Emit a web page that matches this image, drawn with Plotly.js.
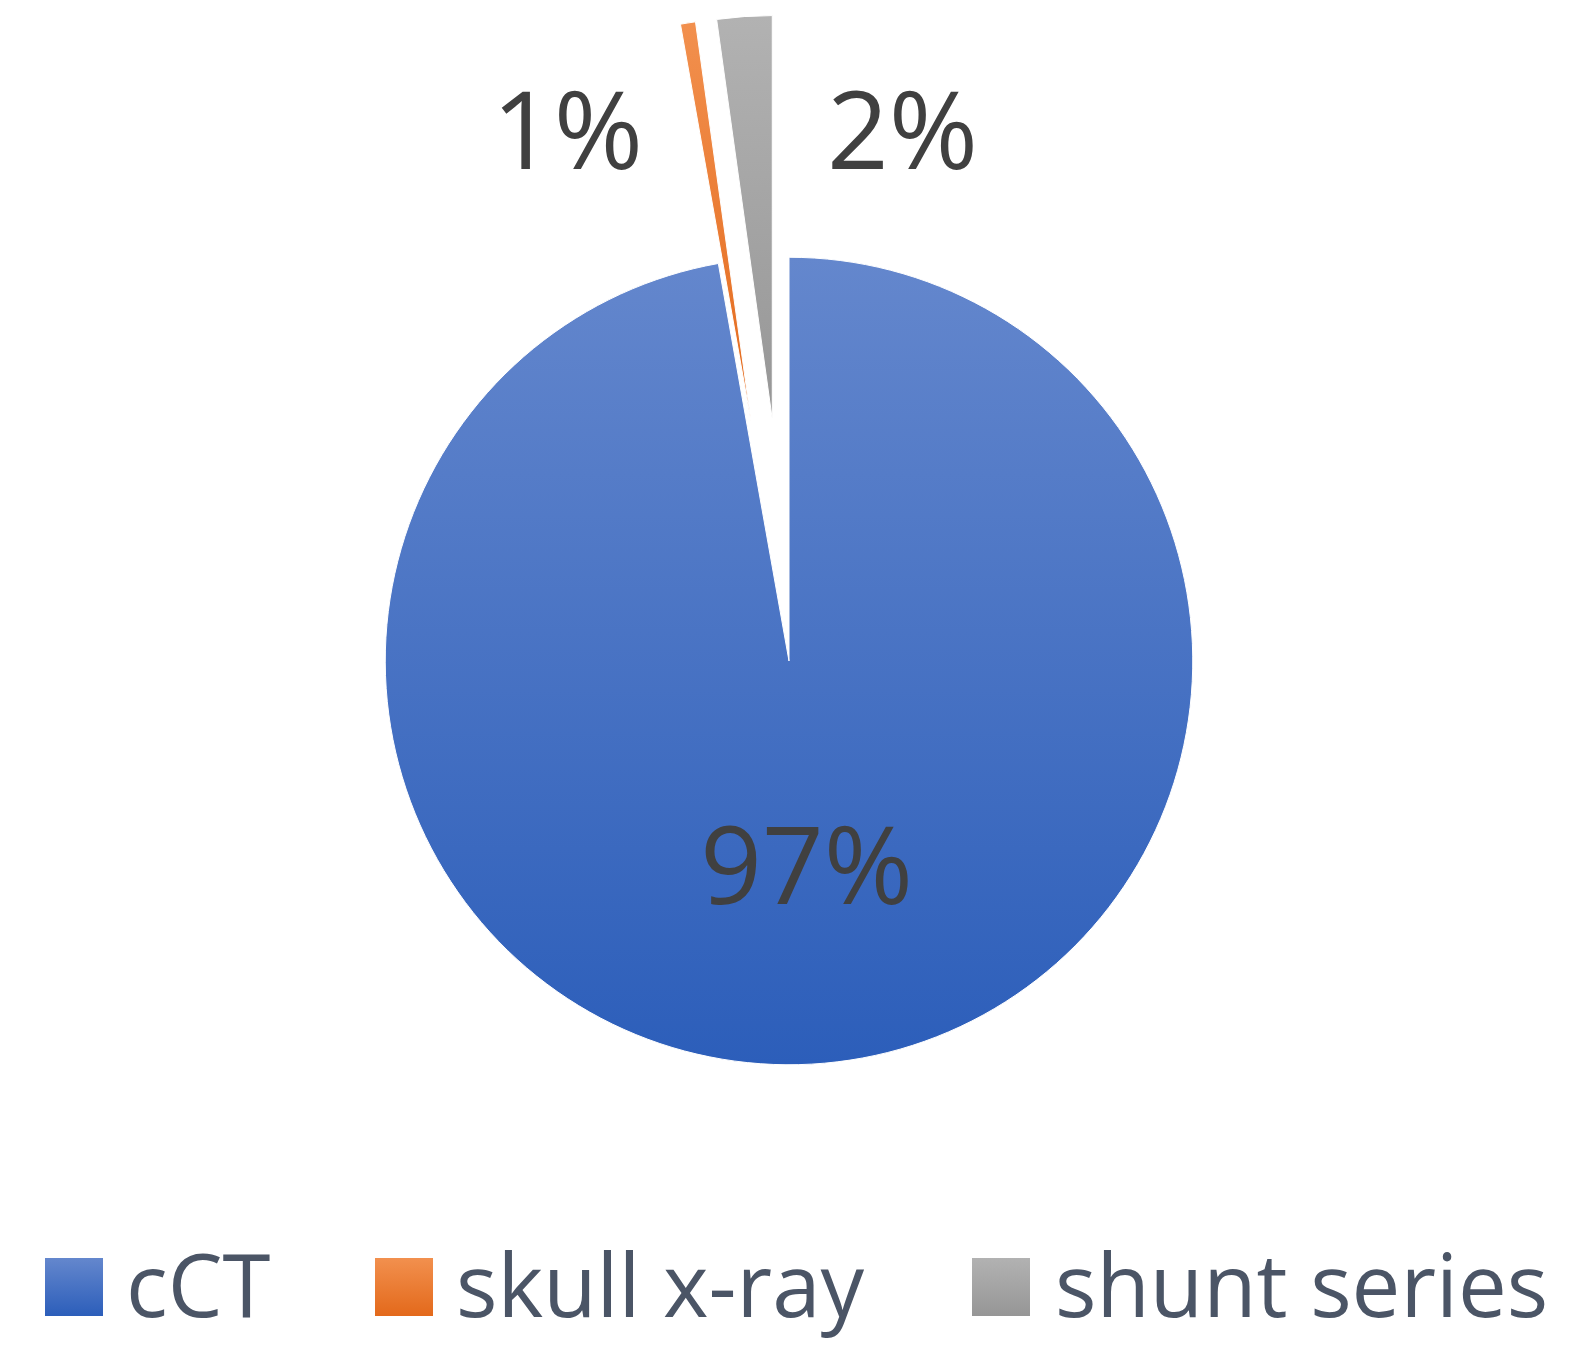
<!DOCTYPE html>
<html>
<head>
<meta charset="utf-8">
<script src="https://cdn.plot.ly/plotly-3.0.1.min.js"></script>
<style>
  html, body { margin: 0; padding: 0; background: #fff; }
  #chart { width: 1584px; height: 1371px; }
</style>
</head>
<body>
<div id="chart"></div>
<script>
const categories = ["cCT", "skull x-ray", "shunt series"];
const shares = [97.2, 0.6, 2.2];
const pulls = [0, 0.6, 0.6];
const sliceColors = ["#4472C4", "#ED7D31", "#A5A5A5"];
// top / bottom colours of the vertical shading on each slice and legend key
const gradientStops = [["#6487cd", "#2c5eba"], ["#f2904e", "#e3691b"], ["#b2b2b2", "#969696"]];

const W = 1584;
const H = 1371;
const FONT = "Open Sans, Noto Sans, DejaVu Sans, sans-serif";
const LABEL_COLOR = "#404040";
const LEGEND_COLOR = "#4b5566";

const px = (x) => x / W;
const py = (y) => 1 - y / H;

// label spots for the two exploded slivers, and legend key / text x positions (pixels)
const outsideLabelPos = { 1: [567, 128], 2: [902, 128] };
const legendKeyX = [45, 375, 972];
const legendTextX = [124, 454, 1053];
const KEY_SIZE = 58;
const KEY_TOP = 1258;

const total = shares.reduce((a, b) => a + b, 0);
const percentText = (v) => `${Math.round((v / total) * 100)}%`;

const pieTrace = {
  type: "pie",
  labels: categories,
  values: shares,
  pull: pulls,
  sort: false,
  direction: "clockwise",
  rotation: 0,
  marker: { colors: sliceColors, line: { color: "#ffffff", width: 1 } },
  texttemplate: "%{percent:.0%}",
  textposition: ["inside", "none", "none"],
  insidetextorientation: "horizontal",
  textfont: { family: FONT, size: 108, color: LABEL_COLOR },
  hoverinfo: "label+percent",
  showlegend: false,
  domain: { x: [px(143), px(1435)], y: [py(1307), py(15)] },
};

const annotations = [];
Object.keys(outsideLabelPos).forEach((key) => {
  const i = Number(key);
  const [x, y] = outsideLabelPos[key];
  annotations.push({
    text: percentText(shares[i]),
    xref: "paper", yref: "paper",
    x: px(x), y: py(y),
    xanchor: "center", yanchor: "middle",
    showarrow: false,
    font: { family: FONT, size: 108, color: LABEL_COLOR },
  });
});

const shapes = [];
categories.forEach((name, i) => {
  shapes.push({
    type: "rect",
    xref: "paper", yref: "paper",
    x0: px(legendKeyX[i]), x1: px(legendKeyX[i] + KEY_SIZE),
    y0: py(KEY_TOP + KEY_SIZE), y1: py(KEY_TOP),
    fillcolor: sliceColors[i],
    line: { width: 0 },
  });
  annotations.push({
    text: name,
    xref: "paper", yref: "paper",
    x: px(legendTextX[i]), y: py(1283),
    xanchor: "left", yanchor: "middle",
    showarrow: false,
    font: { family: FONT, size: 87, color: LEGEND_COLOR },
  });
});

const layout = {
  width: W,
  height: H,
  margin: { l: 0, r: 0, t: 0, b: 0 },
  paper_bgcolor: "#ffffff",
  showlegend: false,
  annotations,
  shapes,
};

// Plotly pies have no gradient fill, so shade the drawn slices and keys afterwards.
function applyGradients(gd) {
  const ns = "http://www.w3.org/2000/svg";
  const defs = gd.querySelector(".main-svg defs");
  if (!defs) return;
  gradientStops.forEach(([top, bottom], i) => {
    const grad = document.createElementNS(ns, "linearGradient");
    grad.setAttribute("id", `shade${i}`);
    grad.setAttribute("x1", "0");
    grad.setAttribute("y1", "0");
    grad.setAttribute("x2", "0");
    grad.setAttribute("y2", "1");
    [[0, top], [1, bottom]].forEach(([offset, color]) => {
      const stop = document.createElementNS(ns, "stop");
      stop.setAttribute("offset", String(offset));
      stop.setAttribute("stop-color", color);
      grad.appendChild(stop);
    });
    defs.appendChild(grad);
  });
  gd.querySelectorAll("g.slice path.surface").forEach((path, i) => {
    path.style.fill = `url(#shade${i})`;
  });
  gd.querySelectorAll(".shapelayer path").forEach((path, i) => {
    path.style.fill = `url(#shade${i})`;
  });
}

const chart = document.getElementById("chart");
Plotly.newPlot(chart, [pieTrace], layout, { displayModeBar: false, staticPlot: true })
  .then(applyGradients);
</script>
</body>
</html>
